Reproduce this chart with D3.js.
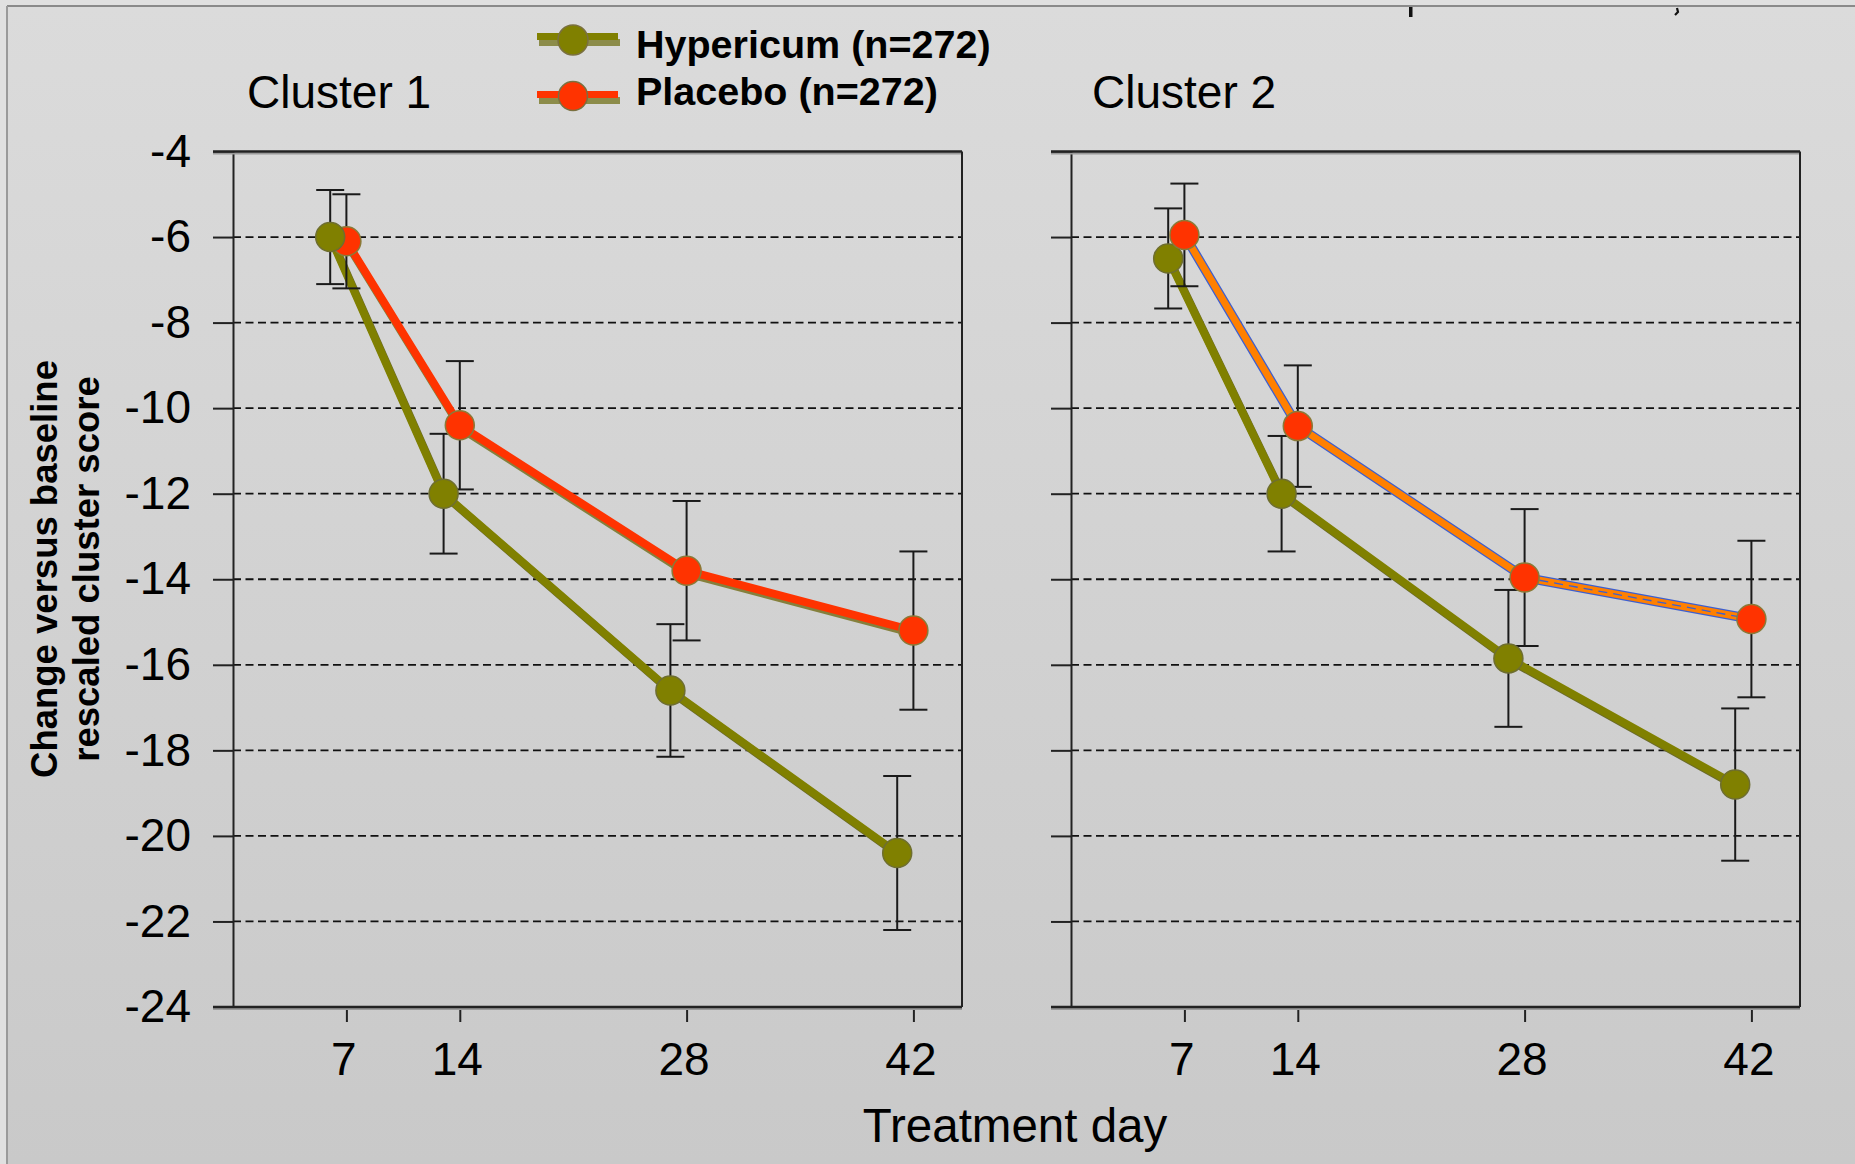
<!DOCTYPE html>
<html>
<head>
<meta charset="utf-8">
<script src="https://cdn.jsdelivr.net/npm/d3@7"></script>
<style>
  html, body { margin: 0; padding: 0; background: #e2e2e2; }
  svg { display: block; }
  text { font-family: "Liberation Sans", Arial, sans-serif; fill: #000; }
</style>
</head>
<body>
<svg id="chart" width="1855" height="1164"></svg>
<script>
// ---------------- data ----------------
const days = [7, 14, 28, 42];
const dayTicks = [7, 14, 28, 42];
const yTicks = [-4, -6, -8, -10, -12, -14, -16, -18, -20, -22, -24];
const gridValues = [-6, -8, -10, -12, -14, -16, -18, -20, -22];
const panelTitles = ["Cluster 1", "Cluster 2"];
const seriesNames = ["Hypericum (n=272)", "Placebo (n=272)"];

const hypericumC1 = [-6.0, -12.0, -16.6, -20.4];
const hypericumC1Err = [1.1, 1.4, 1.55, 1.8];
const placeboC1 = [-6.1, -10.4, -13.8, -15.2];
const placeboC1Err = [1.1, 1.5, 1.63, 1.85];

const hypericumC2 = [-6.5, -12.0, -15.85, -18.8];
const hypericumC2Err = [1.17, 1.35, 1.6, 1.78];
const placeboC2 = [-5.95, -10.42, -13.96, -14.93];
const placeboC2Err = [1.2, 1.42, 1.6, 1.83];

const xAxisTitle = "Treatment day";
const yAxisTitle = ["Change versus baseline", "rescaled cluster score"];

// ---------------- layout / style ----------------
const W = 1855, H = 1164;
const svg = d3.select("#chart");
const hypDodge = -1; // days, horizontal dodge of Hypericum series
const colHyp = "#808000", colHypShadow = "#6a6a2a";
const colPla = "#ff3300", colPlaShadow = "#85803c";

const defs = svg.append("defs");
const grad = defs.append("linearGradient").attr("id", "bg").attr("x1", 0).attr("y1", 0).attr("x2", 0).attr("y2", 1);
grad.append("stop").attr("offset", "0%").attr("stop-color", "#dbdbdb");
grad.append("stop").attr("offset", "100%").attr("stop-color", "#c9c9c9");

svg.append("rect").attr("width", W).attr("height", H).attr("fill", "#e0e0e0");
svg.append("rect").attr("x", 7).attr("y", 6).attr("width", W - 7).attr("height", H - 6)
  .attr("fill", "url(#bg)");
svg.append("line").attr("x1", 7).attr("x2", W).attr("y1", 6).attr("y2", 6).attr("stroke", "#8a8a8a").attr("stroke-width", 2);
svg.append("line").attr("x1", 7).attr("x2", 7).attr("y1", 6).attr("y2", H).attr("stroke", "#9a9a9a").attr("stroke-width", 2);

// fragments of cut-off text at the top edge
svg.append("rect").attr("x", 1409).attr("y", 7).attr("width", 3.5).attr("height", 10).attr("fill", "#111");
svg.append("path").attr("d", "M1677,8 L1678,12 L1675,15").attr("stroke", "#111").attr("stroke-width", 2.2).attr("fill", "none");

const y = d3.scaleLinear().domain([-4, -24]).range([151.5, 1007]);

const panels = [
  { title: panelTitles[0], x0: 233, x1: 962, titleX: 247, labels: true,
    hyp: hypericumC1, hypErr: hypericumC1Err, pla: placeboC1, plaErr: placeboC1Err, style: "red" },
  { title: panelTitles[1], x0: 1071, x1: 1800, titleX: 1092, labels: false,
    hyp: hypericumC2, hypErr: hypericumC2Err, pla: placeboC2, plaErr: placeboC2Err, style: "orange" }
];

panels.forEach(p => {
  const x = d3.scaleLinear().domain([0, 45]).range([p.x0, p.x1]);
  const g = svg.append("g");

  // gridlines
  g.selectAll(".grid").data(gridValues).join("line")
    .attr("x1", p.x0).attr("x2", p.x1)
    .attr("y1", d => y(d)).attr("y2", d => y(d))
    .attr("stroke", "#111").attr("stroke-width", 1.8).attr("stroke-dasharray", "8,4.5");

  // y axis (ticks outward)
  const yAxis = d3.axisLeft(y).tickValues(yTicks).tickSize(20).tickPadding(22)
    .tickFormat(p.labels ? d3.format("d") : () => "");
  const ya = g.append("g").attr("transform", `translate(${p.x0},0)`).call(yAxis);
  ya.select(".domain").attr("stroke", "#222").attr("stroke-width", 2);
  ya.selectAll(".tick line").attr("stroke", "#222").attr("stroke-width", 2);
  ya.selectAll(".tick text").attr("font-size", 46).attr("fill", "#000")
    .attr("font-family", "Liberation Sans, Arial, sans-serif").text(d => p.labels ? String(d) : "");

  // x axis (bottom)
  const xAxis = d3.axisBottom(x).tickValues(dayTicks).tickSize(15).tickPadding(20).tickFormat(d3.format("d"));
  const xa = g.append("g").attr("transform", `translate(0,${y(-24)})`).call(xAxis);
  xa.select(".domain").remove();
  xa.selectAll(".tick line").attr("stroke", "#222").attr("stroke-width", 2);
  xa.selectAll(".tick text").attr("font-size", 46).attr("fill", "#000")
    .attr("font-family", "Liberation Sans, Arial, sans-serif").attr("dx", -3);

  // frame: top & bottom lines extend to tick length, right side
  [-4, -24].forEach(v => {
    g.append("line").attr("x1", p.x0 - 20).attr("x2", p.x1).attr("y1", y(v) + 2).attr("y2", y(v) + 2)
      .attr("stroke", "#9a9a9a").attr("stroke-width", 2);
    g.append("line").attr("x1", p.x0 - 20).attr("x2", p.x1).attr("y1", y(v)).attr("y2", y(v))
      .attr("stroke", "#222").attr("stroke-width", 2.5);
  });
  g.append("line").attr("x1", p.x1).attr("x2", p.x1).attr("y1", y(-4)).attr("y2", y(-24))
    .attr("stroke", "#222").attr("stroke-width", 2);

  // panel title
  svg.append("text").attr("x", p.titleX).attr("y", 108).attr("font-size", 46).text(p.title);

  const hypPts = days.map((d, i) => ({ x: x(d + hypDodge), v: p.hyp[i], e: p.hypErr[i] }));
  const plaPts = days.map((d, i) => ({ x: x(d), v: p.pla[i], e: p.plaErr[i] }));
  const line = d3.line().x(d => d.x).y(d => y(d.v));

  // placebo line
  if (p.style === "red") {
    g.append("path").datum(plaPts).attr("d", line).attr("transform", "translate(1,3)")
      .attr("fill", "none").attr("stroke", colPlaShadow).attr("stroke-width", 8).attr("stroke-linejoin", "round");
    g.append("path").datum(plaPts).attr("d", line)
      .attr("fill", "none").attr("stroke", colPla).attr("stroke-width", 8).attr("stroke-linejoin", "round");
  } else {
    g.append("path").datum(plaPts).attr("d", line)
      .attr("fill", "none").attr("stroke", "#3d5fd0").attr("stroke-width", 9.5).attr("stroke-linejoin", "round");
    g.append("path").datum(plaPts).attr("d", line)
      .attr("fill", "none").attr("stroke", "#ff8000").attr("stroke-width", 7).attr("stroke-linejoin", "round");
    g.append("path").datum(plaPts.slice(2)).attr("d", line)
      .attr("fill", "none").attr("stroke", "#3d5fd0").attr("stroke-width", 1.3).attr("stroke-dasharray", "9,6");
  }
  // hypericum line
  g.append("path").datum(hypPts).attr("d", line).attr("transform", "translate(1.5,2)")
    .attr("fill", "none").attr("stroke", colHypShadow).attr("stroke-width", 8).attr("stroke-linejoin", "round");
  g.append("path").datum(hypPts).attr("d", line)
    .attr("fill", "none").attr("stroke", colHyp).attr("stroke-width", 8).attr("stroke-linejoin", "round");

  // error bars
  const cap = 14;
  [plaPts, hypPts].forEach(pts => {
    const eb = g.append("g").attr("stroke", "#1a1a1a").attr("stroke-width", 2);
    eb.selectAll(".v").data(pts).join("line")
      .attr("x1", d => d.x).attr("x2", d => d.x).attr("y1", d => y(d.v + d.e)).attr("y2", d => y(d.v - d.e));
    eb.selectAll(".t").data(pts).join("line")
      .attr("x1", d => d.x - cap).attr("x2", d => d.x + cap).attr("y1", d => y(d.v + d.e)).attr("y2", d => y(d.v + d.e));
    eb.selectAll(".b").data(pts).join("line")
      .attr("x1", d => d.x - cap).attr("x2", d => d.x + cap).attr("y1", d => y(d.v - d.e)).attr("y2", d => y(d.v - d.e));
  });

  // markers
  const drawMarkers = (pts, fill, stroke) => {
    g.append("g").selectAll("circle").data(pts).join("circle")
      .attr("cx", d => d.x).attr("cy", d => y(d.v)).attr("r", 14.5)
      .attr("fill", fill).attr("stroke", stroke).attr("stroke-width", 1.5);
  };
  if (p.style === "red") {
    drawMarkers(plaPts, colPla, "#8a7a38");
    drawMarkers(hypPts, colHyp, "#6e6e30");
  } else {
    drawMarkers(hypPts, colHyp, "#6e6e30");
    drawMarkers(plaPts, colPla, "#8a7a38");
  }
});

// ---------------- legend ----------------
const legend = svg.append("g");
const legItems = [
  { name: seriesNames[0], col: colHyp, sh: "#8c8c4a", ly: 36.5, my: 40, r: 15 },
  { name: seriesNames[1], col: colPla, sh: "#8c8c4a", ly: 94.5, my: 96, r: 14.5 }
];
legItems.forEach((it, i) => {
  legend.append("line").attr("x1", 539).attr("x2", 620).attr("y1", it.ly + 6).attr("y2", it.ly + 6)
    .attr("stroke", it.sh).attr("stroke-width", 7);
  legend.append("line").attr("x1", 537).attr("x2", 618).attr("y1", it.ly).attr("y2", it.ly)
    .attr("stroke", it.col).attr("stroke-width", 7);
  legend.append("circle").attr("cx", 573).attr("cy", it.my).attr("r", it.r)
    .attr("fill", it.col).attr("stroke", "#7a7040").attr("stroke-width", 1.5);
  legend.append("text").attr("x", 636).attr("y", i === 0 ? 58 : 105)
    .attr("font-size", 39.5).attr("font-weight", "bold").text(it.name);
});

// ---------------- axis titles ----------------
svg.append("text").attr("x", 1015).attr("y", 1142).attr("text-anchor", "middle")
  .attr("font-size", 47.5).text(xAxisTitle);

const yt = svg.append("g");
yAxisTitle.forEach((t, i) => {
  yt.append("text").attr("transform", `translate(${i === 0 ? 57 : 99},569) rotate(-90)`)
    .attr("text-anchor", "middle").attr("font-size", 36.5).attr("font-weight", "bold").text(t);
});
</script>
</body>
</html>
